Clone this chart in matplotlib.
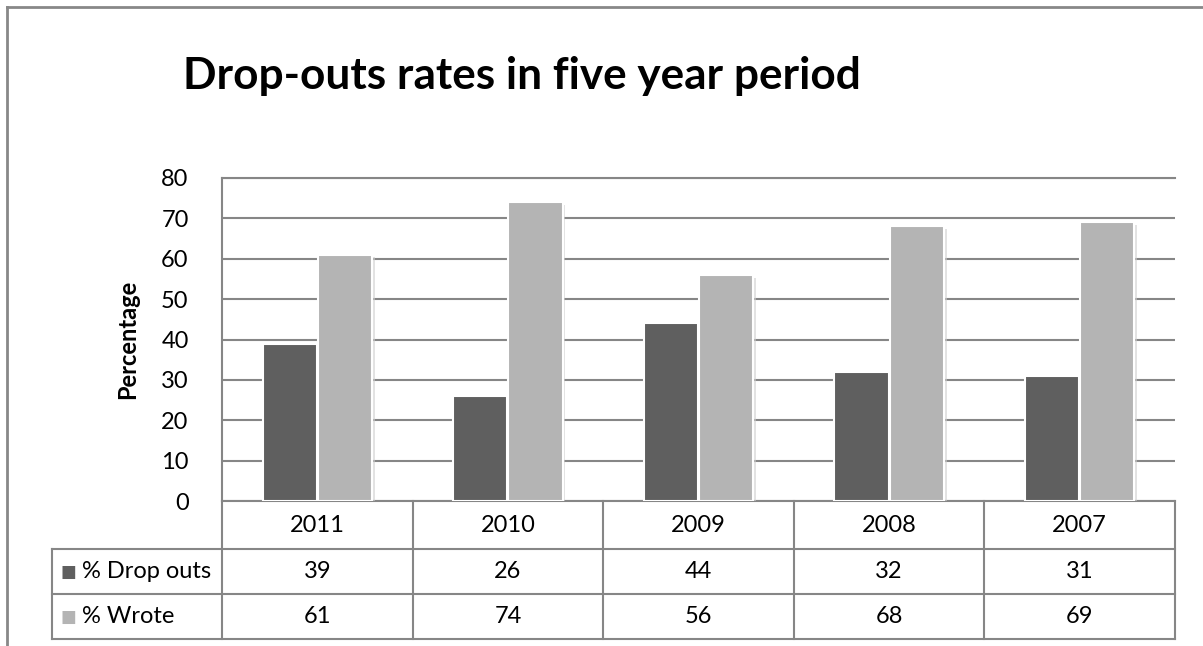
import matplotlib.pyplot as plt
import matplotlib.patheffects as pe
from matplotlib.transforms import blended_transform_factory
from matplotlib.lines import Line2D
import numpy as np

plt.rcParams['font.family'] = ['Lato', 'DejaVu Sans']

years = ['2011', '2010', '2009', '2008', '2007']
drop_outs = [39, 26, 44, 32, 31]
wrote = [61, 74, 56, 68, 69]
series_names = ['% Drop outs', '% Wrote']
colors = ['#5f5f5f', '#b4b4b4']
grid_col = '#868686'

W, H = 1203, 646
fig = plt.figure(figsize=(W / 100, H / 100), dpi=100)

# plot area in pixels: left 222, right 1175, top 178, bottom 501
ax = fig.add_axes([222 / W, (H - 501) / H, 953 / W, 323 / H])

x = np.arange(len(years))
shadow = [pe.SimplePatchShadow(offset=(2, -2), shadow_rgbFace='#cfcfcf', alpha=0.6), pe.Normal()]
b1 = ax.bar(x - 0.145, drop_outs, width=0.285, color=colors[0], edgecolor='white', linewidth=1.5, zorder=3)
b2 = ax.bar(x + 0.145, wrote, width=0.285, color=colors[1], edgecolor='white', linewidth=1.5, zorder=3)
for b in list(b1) + list(b2):
    b.set_path_effects(shadow)

ax.set_xlim(-0.5, len(years) - 0.5)
ax.set_ylim(0, 80)
ax.set_yticks(range(0, 81, 10))
ax.yaxis.grid(True, color=grid_col, linewidth=1.5, zorder=0)
ax.set_axisbelow(True)
ax.set_xticks([])
ax.tick_params(axis='y', length=0, labelsize=17, pad=24)
for s in ['right', 'bottom']:
    ax.spines[s].set_visible(False)
ax.spines['top'].set_color(grid_col)
ax.spines['top'].set_linewidth(1.5)
ax.spines['left'].set_color(grid_col)
ax.spines['left'].set_linewidth(1.5)
ax.set_ylabel('Percentage', fontsize=17, fontweight='bold', labelpad=16)

# data table under the plot
tr = blended_transform_factory(ax.transData, ax.transAxes)
ph = 323.0
rows_y = [0, -48 / ph, -93 / ph, -138 / ph]
left_x = -0.5 - 170 / 190.6
right_x = len(years) - 0.5
lw = 1.5
# horizontal lines
ax.add_line(Line2D([-0.5, right_x], [0, 0], transform=tr, color=grid_col, lw=lw, clip_on=False))
for yy in rows_y[1:]:
    ax.add_line(Line2D([left_x, right_x], [yy, yy], transform=tr, color=grid_col, lw=lw, clip_on=False))
# vertical lines
ax.add_line(Line2D([left_x, left_x], [rows_y[1], rows_y[3]], transform=tr, color=grid_col, lw=lw, clip_on=False))
for i in range(len(years) + 1):
    xx = i - 0.5
    ax.add_line(Line2D([xx, xx], [0, rows_y[3]], transform=tr, color=grid_col, lw=lw, clip_on=False))

for i, yr in enumerate(years):
    ax.text(i, (rows_y[0] + rows_y[1]) / 2, yr, transform=tr, ha='center', va='center', fontsize=17)
    ax.text(i, (rows_y[1] + rows_y[2]) / 2, str(drop_outs[i]), transform=tr, ha='center', va='center', fontsize=17)
    ax.text(i, (rows_y[2] + rows_y[3]) / 2, str(wrote[i]), transform=tr, ha='center', va='center', fontsize=17)

for j, name in enumerate(series_names):
    yc = (rows_y[j + 1] + rows_y[j + 2]) / 2
    ax.text(left_x + 0.045, yc, '\u25a0', transform=tr, ha='left', va='center', fontsize=12,
            color=colors[j], family='DejaVu Sans')
    ax.text(left_x + 0.16, yc, name, transform=tr, ha='left', va='center', fontsize=17)

# outer frame
fig.add_artist(Line2D([7 / W, 7 / W], [0, 1 - 7 / H], color='#888888', lw=2))
fig.add_artist(Line2D([7 / W, 1], [1 - 7 / H, 1 - 7 / H], color='#888888', lw=2))

fig.text(183 / W, 1 - 76 / H, 'Drop-outs rates in five year period', fontsize=31.8, fontweight='bold',
         ha='left', va='center')

fig.savefig('out.png', dpi=100)
